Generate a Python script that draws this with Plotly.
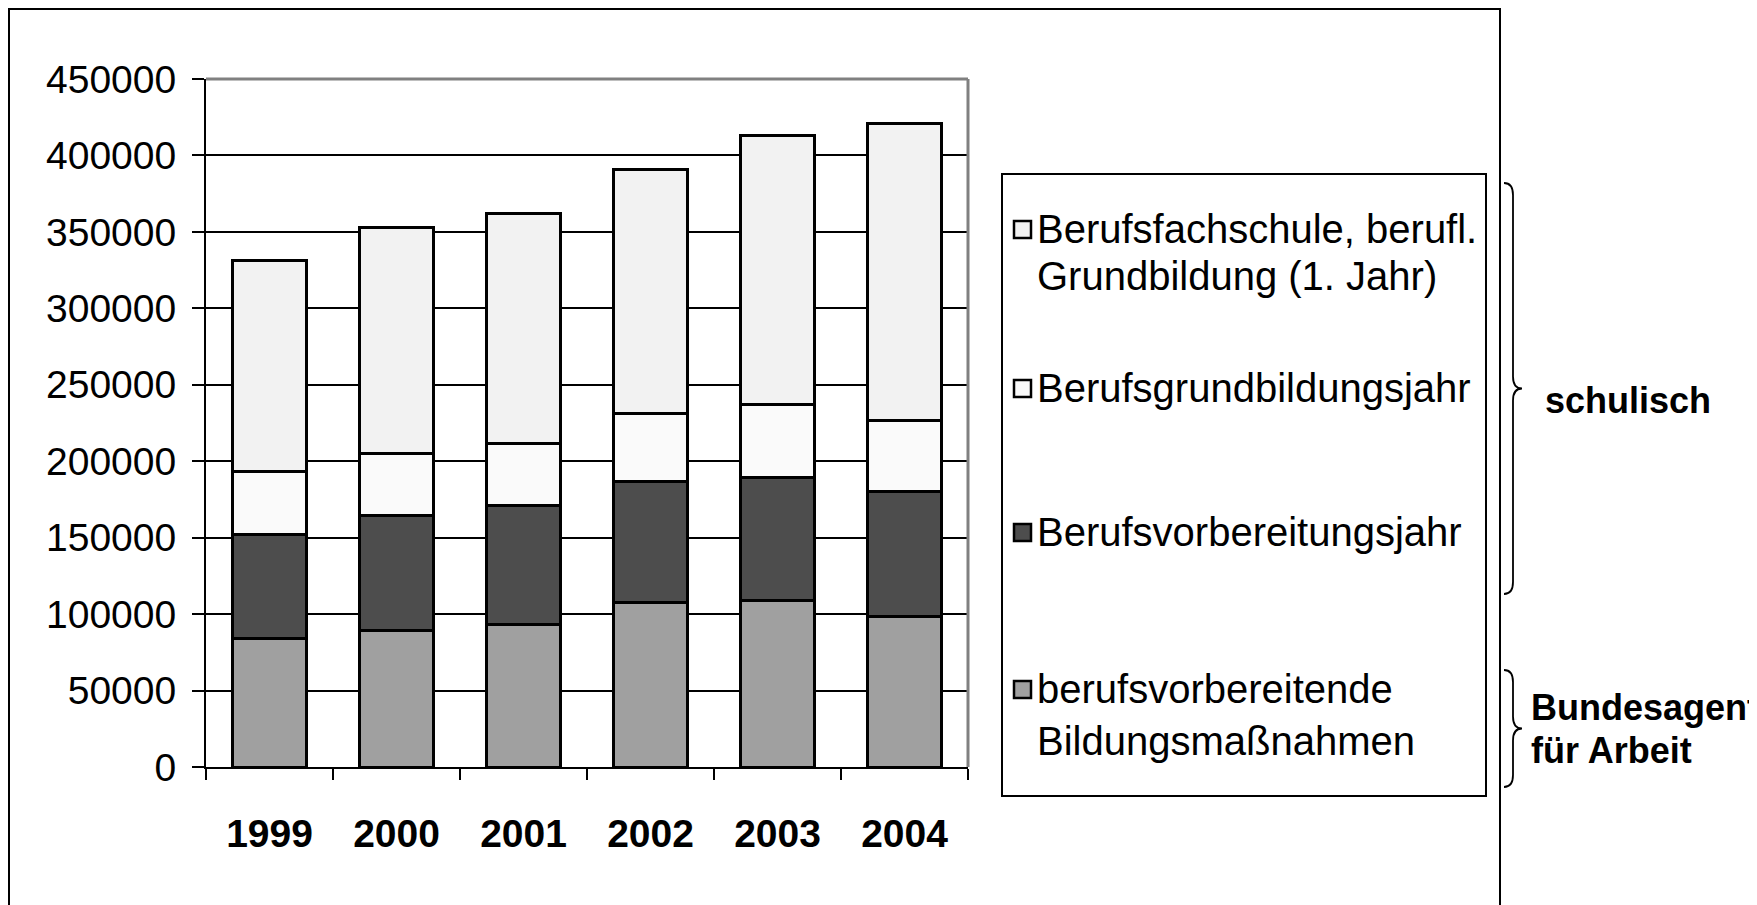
import plotly.graph_objects as go

# ---------------- data ----------------
years = ["1999", "2000", "2001", "2002", "2003", "2004"]
bildungsmassnahmen = [84000, 89300, 93200, 107700, 109000, 98500]
bvj = [68400, 75200, 77600, 79100, 80500, 81800]
bgj = [40800, 40800, 40800, 44400, 47300, 46200]
berufsfachschule = [138100, 147600, 150300, 159900, 176500, 194700]

series_names = [
    "berufsvorbereitende<br>Bildungsmaßnahmen",
    "Berufsvorbereitungsjahr",
    "Berufsgrundbildungsjahr",
    "Berufsfachschule, berufl.<br>Grundbildung (1. Jahr)",
]
series_values = [bildungsmassnahmen, bvj, bgj, berufsfachschule]
series_colors = ["#A0A0A0", "#4D4D4D", "#FAFAFA", "#F2F2F2"]

y_ticks = [0, 50000, 100000, 150000, 200000, 250000, 300000, 350000, 400000, 450000]

# ---------------- layout geometry (page pixels, body margin 8px) ----------------
OFF = 8
W, H = 1757 - OFF, 905 - OFF
PL, PR, PT, PB = 206, 968, 79, 767          # plot area in page pixels
ML = PL - OFF
MT = PT - OFF
MR = W - (PR - OFF)
MB = H - (PB - OFF)
PW = W - ML - MR
PH = H - MT - MB


def px(x):
    return (x - OFF - ML) / PW


def py(y):
    return (H - MB - (y - OFF)) / PH


FONT = "Liberation Sans, Arial, sans-serif"

fig = go.Figure()
for name, vals, col in zip(series_names, series_values, series_colors):
    fig.add_trace(
        go.Bar(
            x=years,
            y=vals,
            name=name.replace("<br>", " "),
            marker=dict(color=col, line=dict(color="black", width=3)),
            showlegend=False,
        )
    )

fig.update_layout(
    width=W,
    height=H,
    margin=dict(l=ML, r=MR, t=MT, b=MB, pad=0),
    paper_bgcolor="white",
    plot_bgcolor="white",
    barmode="stack",
    bargap=0.425,
    font=dict(family=FONT, color="black"),
)

fig.update_yaxes(
    range=[0, 450000],
    tickvals=y_ticks,
    tickformat="d",
    showgrid=True,
    gridcolor="black",
    gridwidth=1.5,
    zeroline=False,
    showline=True,
    linecolor="black",
    linewidth=2,
    ticks="outside",
    ticklen=12,
    tickwidth=1.5,
    tickcolor="black",
    tickfont=dict(size=39, family=FONT, color="black"),
    ticklabelstandoff=8,
)

fig.update_xaxes(
    type="category",
    tickson="boundaries",
    showgrid=False,
    showline=True,
    linecolor="black",
    linewidth=2,
    ticks="outside",
    ticklen=11,
    tickwidth=1.5,
    tickcolor="black",
    tickfont=dict(size=39, family=FONT, color="black", weight="bold"),
    ticklabelstandoff=31,
)

shapes = []
# gray top and right frame of plot area
shapes.append(dict(type="line", xref="paper", yref="paper", x0=0, x1=1, y0=1, y1=1,
                   line=dict(color="#808080", width=3)))
shapes.append(dict(type="line", xref="paper", yref="paper", x0=1, x1=1, y0=0, y1=1,
                   line=dict(color="#808080", width=3)))
# outer border (bottom edge lies outside the picture)
shapes.append(dict(type="rect", xref="paper", yref="paper",
                   x0=px(OFF + 1), x1=px(1500), y0=py(925), y1=py(OFF + 1),
                   line=dict(color="black", width=2), fillcolor="rgba(0,0,0,0)"))
# legend box
shapes.append(dict(type="rect", xref="paper", yref="paper",
                   x0=px(1002), x1=px(1486), y0=py(796), y1=py(174),
                   line=dict(color="black", width=2), fillcolor="rgba(0,0,0,0)"))

# legend entries (top to bottom)
legend_order = [3, 2, 1, 0]
legend_y = [229, 388, 532, 689]  # first-line centre, page pixels
legend_gap = [47, 0, 0, 52]
annotations = []
for idx, yc, gap in zip(legend_order, legend_y, legend_gap):
    shapes.append(dict(type="rect", xref="paper", yref="paper",
                       x0=px(1014), x1=px(1031), y0=py(yc + 9), y1=py(yc - 8),
                       line=dict(color="black", width=2.5),
                       fillcolor=series_colors[idx]))
    lines = series_names[idx].split("<br>")
    for k, ln in enumerate(lines):
        annotations.append(dict(
            xref="paper", yref="paper", x=px(1035), y=py(yc + k * gap),
            xanchor="left", yanchor="middle", showarrow=False, text=ln,
            font=dict(size=40, family=FONT, color="black"),
        ))


def brace(x0, x1, x2, yt, yb):
    ym = (yt + yb) / 2
    r = 12
    pts = [
        ("M", [(x0, yt)]),
        ("Q", [(x1, yt), (x1, yt + r)]),
        ("L", [(x1, ym - r)]),
        ("Q", [(x1, ym), (x2, ym)]),
        ("Q", [(x1, ym), (x1, ym + r)]),
        ("L", [(x1, yb - r)]),
        ("Q", [(x1, yb), (x0, yb)]),
    ]
    s = ""
    for cmd, ps in pts:
        s += cmd + " " + " ".join(f"{px(a):.5f},{py(b):.5f}" for a, b in ps) + " "
    return s.strip()


shapes.append(dict(type="path", xref="paper", yref="paper",
                   path=brace(1504, 1513, 1522, 183, 594),
                   line=dict(color="black", width=1.8)))
shapes.append(dict(type="path", xref="paper", yref="paper",
                   path=brace(1504, 1513, 1522, 670, 787),
                   line=dict(color="black", width=1.8)))

annotations.append(dict(xref="paper", yref="paper", x=px(1543), y=py(400),
                        xanchor="left", yanchor="middle", showarrow=False,
                        text="<b>schulisch</b>",
                        font=dict(size=36, family=FONT, color="black")))
annotations.append(dict(xref="paper", yref="paper", x=px(1529), y=py(707),
                        xanchor="left", yanchor="middle", showarrow=False,
                        text="<b>Bundesagentur</b>",
                        font=dict(size=36, family=FONT, color="black")))
annotations.append(dict(xref="paper", yref="paper", x=px(1529), y=py(750),
                        xanchor="left", yanchor="middle", showarrow=False,
                        text="<b>für Arbeit</b>",
                        font=dict(size=36, family=FONT, color="black")))

fig.update_layout(shapes=shapes, annotations=annotations)

fig.write_html("out.html")
